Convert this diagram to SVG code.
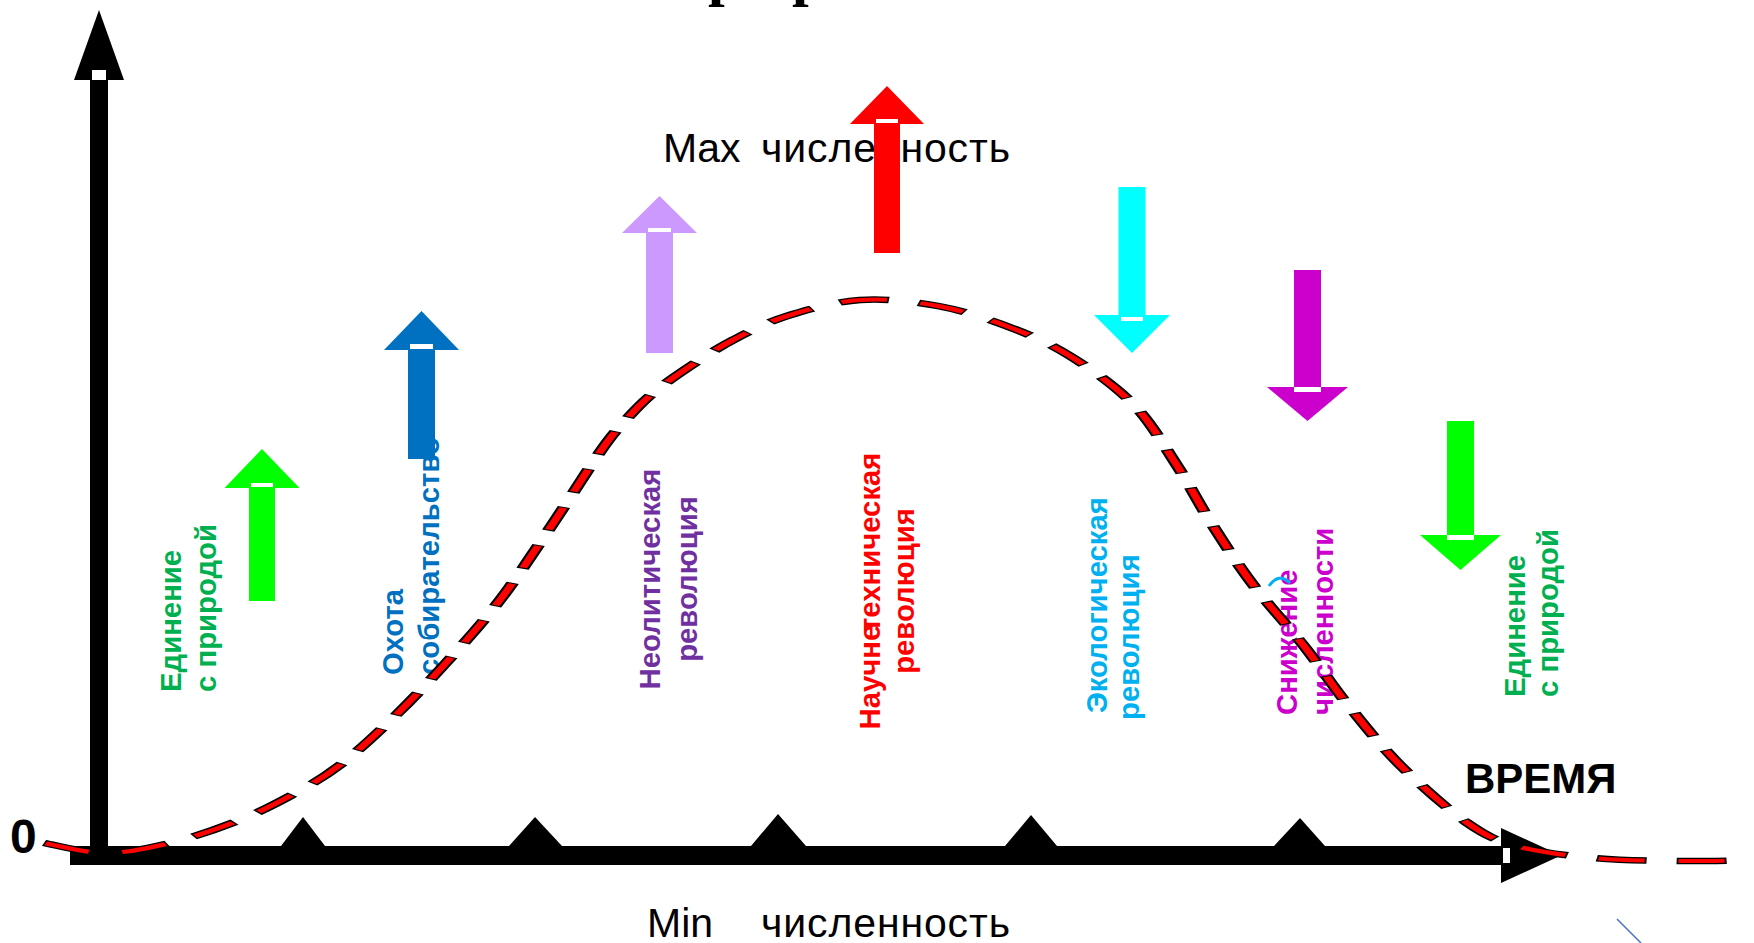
<svg xmlns="http://www.w3.org/2000/svg" width="1754" height="943" viewBox="0 0 1754 943">
<style>
.lbl{font-family:"Liberation Sans",Arial,sans-serif;font-weight:bold;font-size:29.3px}
.plain{font-family:"Liberation Sans",Arial,sans-serif;font-size:41px;fill:#000}
.title{font-family:"Liberation Serif","Times New Roman",serif;font-weight:bold;font-size:60px;fill:#000}
.wm{fill:#fff}
.crvb{fill:none;stroke:#000;stroke-width:6.5;stroke-dasharray:25 15}
.crvr{fill:none;stroke:#f00;stroke-width:4;stroke-dasharray:23 17;stroke-dashoffset:-1}
</style>
<defs>
<path id="curve" d="M22,843 C27.1,844.7 42,853 52.5,853 C63,853 74.15,848.2 85,843 C95.85,837.8 107.5,829.8 117.5,822 C127.5,814.2 136.25,805.5 145,796 C153.75,786.5 161.35,778.2 170,765 C178.65,751.8 188.25,733.8 197,717 C205.75,700.2 213.65,683.5 222.5,664 C231.35,644.5 241.1,623.2 250,600 C258.9,576.8 267.65,549.7 276,525 C284.35,500.3 294,469.2 300,452 C306,434.8 307.65,431.7 312,422 C316.35,412.3 320.6,403.2 326,394 C331.4,384.8 337.75,376 344.5,367 C351.25,358 358.35,348.5 366.5,340 C374.65,331.5 382.9,322.7 393.5,316 C404.1,309.3 417.4,301.7 430,300 C442.6,298.3 456.6,301.5 469,306 C481.4,310.5 493.5,318.7 504.5,327 C515.5,335.3 524.65,343.2 535,356 C545.35,368.8 557.65,386 566.5,404 C575.35,422 581.35,443.7 588,464 C594.65,484.3 600,505.7 606.5,526 C613,546.3 619.4,566 627,586 C634.6,606 644.15,626.2 652,646 C659.85,665.8 666,685.2 674,705 C682,724.8 690.15,745.5 700,765 C709.85,784.5 723.35,808.5 733,822 C742.65,835.5 747.35,840 758,846 C768.65,852 783.35,855.5 797,858 C810.65,860.5 826.15,860.7 840,861 C853.85,861.3 873.35,860.2 880,860"/>
</defs>
<rect width="1754" height="943" fill="#fff"/>

<g id="title">
<text class="title" x="708" y="-6">р</text>
<text class="title" x="792" y="-6">р</text>
</g>

<g id="axes">
<rect x="90" y="80" width="18" height="785" fill="#000"/>
<polygon points="99,10 124,80 74,80" fill="#000"/>
<rect class="wm" x="92" y="70" width="14" height="10"/>
<rect x="70" y="846" width="1432" height="19" fill="#000"/>
<polygon points="1501,828 1561,855.5 1501,883" fill="#000"/>
<rect class="wm" x="1503" y="848" width="7" height="15"/>
<polygon points="281,846 303,817 325,846" fill="#000"/>
<polygon points="509,846 535,817 562,846" fill="#000"/>
<polygon points="751,846 778,814 806,846" fill="#000"/>
<polygon points="1005,846 1031,815 1057,846" fill="#000"/>
<polygon points="1274,846 1300,818 1325,846" fill="#000"/>
<text x="10" y="853" style="font-family:'Liberation Sans',Arial,sans-serif;font-weight:bold;font-size:48px">0</text>
<text x="1465" y="793" style="font-family:'Liberation Sans',Arial,sans-serif;font-weight:bold;font-size:42px">ВРЕМЯ</text>
</g>

<g id="max-label"><text class="plain" x="663" y="162" xml:space="preserve">Max  <tspan x="761" textLength="249" lengthAdjust="spacing">численность</tspan></text></g>
<g id="min-label"><text class="plain" x="647" y="937" xml:space="preserve">Min    <tspan x="761" textLength="249" lengthAdjust="spacing">численность</tspan></text></g>

<g id="label-unity-left" class="lbl" fill="#00B050" transform="translate(181,692) rotate(-90)">
<text x="0" y="0">Единение</text><text x="0" y="35">с природой</text>
</g>
<g id="label-hunting" class="lbl" fill="#0070C0" transform="translate(403,675) rotate(-90)">
<text x="0" y="0">Охота</text><text x="0" y="36">собирательство</text>
</g>
<g id="label-neolithic" class="lbl" fill="#7030A0" text-anchor="middle" transform="translate(660,579) rotate(-90)">
<text x="0" y="0">Неолитическая</text><text x="0" y="37">революция</text>
</g>
<g id="label-scitech" class="lbl" fill="#FF0000" text-anchor="middle" transform="translate(880,591) rotate(-90)">
<text x="0" y="0">Научне<tspan dx="-7">техническая</tspan></text><text x="0" y="34">революция</text>
</g>
<g id="label-ecology" class="lbl" fill="#00B0F0" transform="translate(1107,713) rotate(-90)">
<text x="0" y="0">Экологическая</text><text x="-7" y="32">революция</text>
</g>
<g id="label-decline" class="lbl" fill="#CC00CC" transform="translate(1297,715) rotate(-90)">
<text x="0" y="0">Снижение</text><text x="0" y="36">численности</text>
</g>
<g id="label-unity-right" class="lbl" fill="#00B050" transform="translate(1525,697) rotate(-90)">
<text x="0" y="0">Единение</text><text x="0" y="33">с природой</text>
</g>
<path d="M1269,586 Q1279,572 1290,583" fill="none" stroke="#00B0F0" stroke-width="3"/>

<g id="arrow-unity-left">
<polygon points="262,449 299.5,488 275,488 275,601 249,601 249,488 224.5,488" fill="#00FF00"/>
<rect class="wm" x="251" y="483" width="22" height="4"/>
</g>
<g id="arrow-hunting">
<polygon points="421.5,311 459,350 435,350 435,459 408,459 408,350 384,350" fill="#0070C0"/>
<rect class="wm" x="410" y="344" width="23" height="5"/>
</g>
<g id="arrow-neolithic">
<polygon points="659.5,196 697,233 673,233 673,353 646,353 646,233 622,233" fill="#CC99FF"/>
<rect class="wm" x="648" y="228" width="23" height="4"/>
</g>
<g id="arrow-scitech">
<polygon points="887,86 924,124 900,124 900,253 874,253 874,124 850,124" fill="#FF0000"/>
<rect class="wm" x="876" y="119" width="22" height="4"/>
</g>
<g id="arrow-ecology">
<polygon points="1118.5,187 1145.5,187 1145.5,315 1170,315 1132,353 1094,315 1118.5,315" fill="#00FFFF"/>
<rect class="wm" x="1121" y="317" width="22" height="4"/>
</g>
<g id="arrow-decline">
<polygon points="1294,270 1321,270 1321,387 1348,387 1307.5,421 1267,387 1294,387" fill="#CC00CC"/>
<rect class="wm" x="1294" y="387" width="27" height="5"/>
</g>
<g id="arrow-unity-right">
<polygon points="1447,421 1474,421 1474,535 1501,535 1460.5,570 1420,535 1447,535" fill="#00FF00"/>
<rect class="wm" x="1447" y="535" width="27" height="5"/>
</g>

<g id="connectors">
<g transform="scale(2,1)">
<use href="#curve" class="crvb"/>
<use href="#curve" class="crvr"/>
</g>
<line x1="1617" y1="919" x2="1641" y2="943" stroke="#4472C4" stroke-width="1.5"/>
</g>
</svg>
